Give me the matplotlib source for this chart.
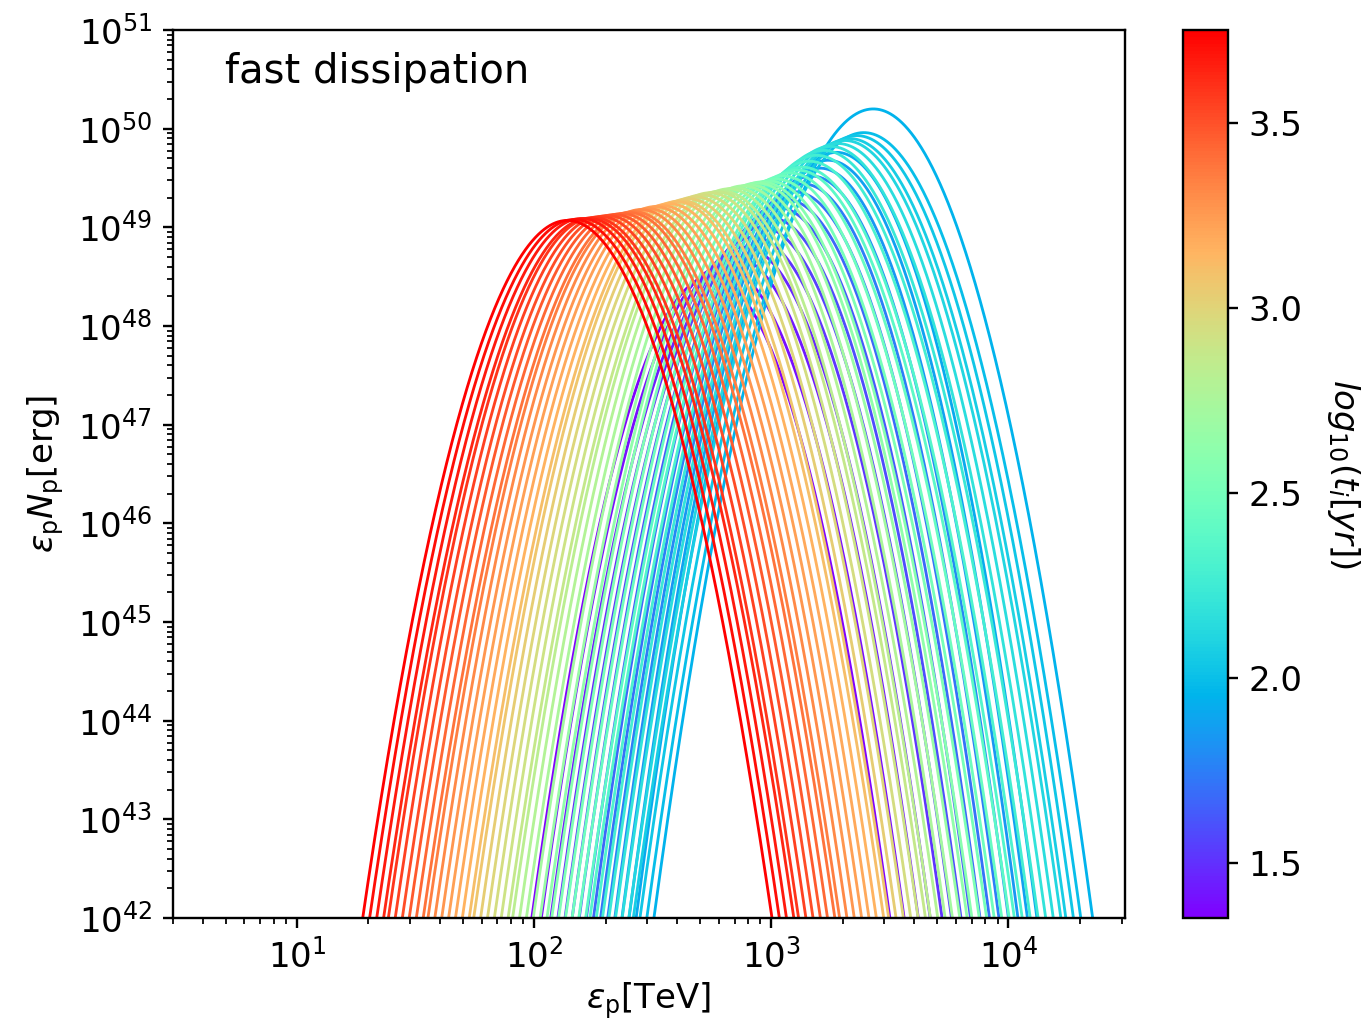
import numpy as np
import matplotlib
matplotlib.use("Agg")
import matplotlib.pyplot as plt
from matplotlib.colors import Normalize
from matplotlib.cm import ScalarMappable
from matplotlib.ticker import NullFormatter

# ---- data ----
# time of each curve, log10(t/yr)
log_t = [1.35, 1.39, 1.43, 1.47, 1.51, 1.55, 1.59, 1.63, 1.67, 1.71, 1.75, 1.79, 1.83, 1.87, 1.91,
         1.95, 1.99, 2.03, 2.07, 2.11, 2.15, 2.19, 2.23, 2.27, 2.31, 2.35, 2.39, 2.43, 2.47, 2.51,
         2.55, 2.59, 2.63, 2.67, 2.71, 2.75, 2.79, 2.83, 2.87, 2.91, 2.95, 2.99, 3.03, 3.07, 3.11,
         3.15, 3.19, 3.23, 3.27, 3.31, 3.35, 3.39, 3.43, 3.47, 3.51, 3.55, 3.59, 3.63, 3.67, 3.71,
         3.75]
# log10 of peak energy [TeV]
peak_logE = [2.745, 2.795, 2.845, 2.885, 2.925, 2.96, 2.995, 3.03, 3.065, 3.10, 3.135, 3.17, 3.205, 3.24, 3.275,
             3.43, 3.39, 3.36, 3.33, 3.31, 3.28, 3.25, 3.22, 3.19, 3.16, 3.13, 3.11, 3.08, 3.05, 3.02,
             2.99, 2.96, 2.94, 2.91, 2.88, 2.85, 2.82, 2.79, 2.77, 2.74, 2.71, 2.68, 2.65, 2.62, 2.60,
             2.57, 2.54, 2.51, 2.48, 2.45, 2.42, 2.40, 2.37, 2.34, 2.31, 2.28, 2.25, 2.23, 2.20, 2.17,
             2.14]
# log10 of peak value [erg]
peak_logN = [48.50, 48.60, 48.70, 48.80, 48.90, 49.00, 49.10, 49.20, 49.28, 49.36, 49.44, 49.52, 49.60, 49.68, 49.76,
             50.20, 49.96, 49.93, 49.90, 49.88, 49.85, 49.82, 49.78, 49.73, 49.67, 49.61, 49.58, 49.55, 49.52, 49.49,
             49.47, 49.46, 49.45, 49.43, 49.42, 49.40, 49.39, 49.37, 49.36, 49.35, 49.33, 49.31, 49.29, 49.27, 49.26,
             49.24, 49.22, 49.21, 49.19, 49.18, 49.16, 49.15, 49.14, 49.13, 49.12, 49.11, 49.10, 49.09, 49.09, 49.08,
             49.07]
# half width (in decades of energy) where each curve reaches 1e42 erg
half_width = [0.755, 0.765, 0.775, 0.785, 0.795, 0.80, 0.805, 0.81, 0.815, 0.82, 0.825, 0.83, 0.835, 0.84, 0.845,
              0.925, 0.915, 0.914, 0.912, 0.911, 0.909, 0.907, 0.905, 0.902, 0.898, 0.895, 0.893, 0.892, 0.890, 0.888,
              0.887, 0.886, 0.886, 0.885, 0.884, 0.883, 0.882, 0.881, 0.880, 0.879, 0.878, 0.877, 0.876, 0.875, 0.874,
              0.873, 0.872, 0.871, 0.870, 0.869, 0.868, 0.868, 0.867, 0.867, 0.866, 0.866, 0.865, 0.865, 0.864, 0.864,
              0.863]

floor_logN = 42.0

fig = plt.figure(figsize=(1364 / 213, 1025 / 213), dpi=213)
ax = fig.add_axes([173 / 1364, 107 / 1025, 952 / 1364, 888 / 1025])
cax = fig.add_axes([1183 / 1364, 107 / 1025, 45 / 1364, 888 / 1025])

cmap = plt.get_cmap("rainbow")
norm = Normalize(vmin=min(log_t), vmax=max(log_t))

xgrid = np.linspace(0.45, 4.55, 3000)
for lt, c, h, hw in zip(log_t, peak_logE, peak_logN, half_width):
    logN = h - (h - floor_logN) * ((xgrid - c) / hw) ** 2
    ax.plot(10 ** xgrid, 10 ** logN, color=cmap(norm(lt)), lw=0.95)

ax.set_xscale("log")
ax.set_yscale("log")
ax.set_xlim(3, 3.1e4)
ax.set_ylim(1e42, 1e51)
ax.xaxis.set_minor_formatter(NullFormatter())
ax.yaxis.set_minor_formatter(NullFormatter())
ax.set_xlabel(r"$\varepsilon_{\rm p}$[TeV]", fontsize=11.5, labelpad=2)
ax.set_ylabel(r"$\varepsilon_{\rm p}N_{\rm p}$[erg]", fontsize=11.5)
ax.tick_params(labelsize=11.5)
ax.text(0.055, 0.94, "fast dissipation", transform=ax.transAxes, fontsize=13.5)

sm = ScalarMappable(norm=norm, cmap=cmap)
cb = fig.colorbar(sm, cax=cax)
cb.set_ticks([1.5, 2.0, 2.5, 3.0, 3.5])
cb.ax.tick_params(labelsize=11.5)
cb.set_label(r"$log_{10}(t_i[yr])$", rotation=270, fontsize=11.5, labelpad=20)

fig.savefig("out.png", dpi=213)
